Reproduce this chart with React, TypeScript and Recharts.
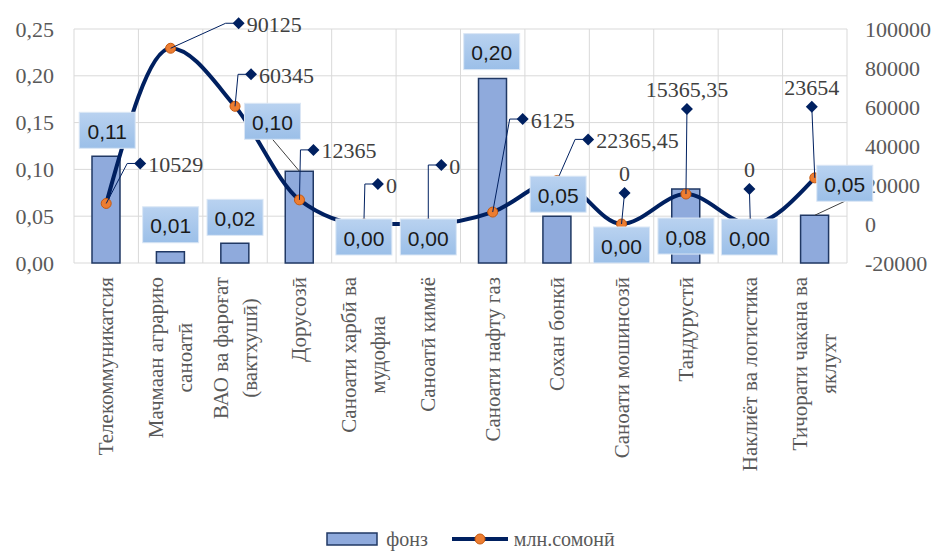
import { ComposedChart, Bar, Line, XAxis, YAxis, CartesianGrid, Legend, LabelList } from "recharts";

// categories (multi-line labels split by \n)
const categories = [
  "Телекоммуникатсия",
  "Мачмаан аграрию\nсаноатӣ",
  "ВАО ва фароғат\n(вактхушӣ)",
  "Дорусозӣ",
  "Саноати харбӣ ва\nмудофиа",
  "Саноатӣ кимиё",
  "Саноати нафту газ",
  "Сохан бонкӣ",
  "Саноати мошинсозӣ",
  "Тандурустӣ",
  "Наклиёт ва логистика",
  "Тичорати чакана ва\nяклухт",
];
const shares = [0.114, 0.012, 0.021, 0.098, 0, 0, 0.197, 0.05, 0, 0.079, 0, 0.051];
const amounts = [10529, 90125, 60345, 12365, 0, 0, 6125, 22365.45, 0, 15365.35, 0, 23654];
const leftTicks = [0, 0.05, 0.1, 0.15, 0.2, 0.25];
const rightTicks = [-20000, 0, 20000, 40000, 60000, 80000, 100000];

// label placement tweaks (box centre relative to bar top, diamond relative to point)
const barLabelShift = [[1, -26], [0, -27], [0, -26], [-27, -50], [0, -26], [0, -26], [-1, -27], [1, -22], [0, -18], [0, 47], [-1, -26], [30, -32]];
const lineLabelShift: [number, number, "r" | "t"][] = [
  [34, -40, "r"], [68, -25, "r"], [16, -32, "r"], [14, -50, "r"], [14, -40, "r"], [13, -59, "r"],
  [30, -93, "r"], [31, -41, "r"], [3, -31, "t"], [1, -85, "t"], [-1, -35, "t"], [-3, -71, "t"],
];

const rows = categories.map((name, i) => ({ name, share: shares[i], amount: amounts[i] }));

const SERIF = "'Liberation Serif', 'DejaVu Serif', serif";
const SANS = "'Liberation Sans', Arial, sans-serif";
const NAVY = "#002060";
const GREY = "#595959";

let ctx: CanvasRenderingContext2D | null = null;
function measure(s: string, font: string) {
  if (!ctx) ctx = document.createElement("canvas").getContext("2d");
  if (!ctx) return s.length * 10;
  ctx.font = font;
  return ctx.measureText(s).width;
}

const CatTick = (props: any) => {
  const { x, y, payload } = props;
  const lines = String(payload.value).split("\n");
  const lh = 29;
  const w = Math.max(...lines.map((l) => measure(l, `21px ${SERIF}`)));
  return (
    <g>
      {lines.map((l, j) => {
        const lx = x + (j - (lines.length - 1) / 2) * lh;
        return (
          <text key={j} transform={`translate(${lx},${y + w / 2}) rotate(-90)`} textAnchor="middle"
            dominantBaseline="central" style={{ fontFamily: SERIF, fontSize: 21 }} fill={GREY}>
            {l}
          </text>
        );
      })}
    </g>
  );
};

const YTick = (props: any) => {
  const { x, y, payload, textAnchor, fmt } = props;
  return (
    <text x={x} y={y} textAnchor={textAnchor} dominantBaseline="central" style={{ fontFamily: SERIF, fontSize: 22 }} fill={GREY}>
      {fmt ? fmt(payload.value) : payload.value}
    </text>
  );
};

// bar labels are hung on an invisible line so zero values still get a box
const BarLabel = (props: any) => {
  const { x, y, index, value } = props;
  const [ox, oy] = barLabelShift[index];
  const bx = x + ox;
  const by = y + oy;
  const bw = 56, bh = 36;
  return (
    <g>
      {Math.abs(ox) > 10 && <line x1={x} y1={y} x2={bx} y2={by + bh / 2} stroke="#404040" strokeWidth={1} />}
      <rect x={bx - bw / 2} y={by - bh / 2} width={bw} height={bh} fill="url(#lblGrad)" stroke="#dbe7f5" strokeWidth={1} />
      <text x={bx} y={by + 1} textAnchor="middle" dominantBaseline="central" style={{ fontFamily: SANS, fontSize: 21 }} fill="#1a1a1a">
        {Number(value).toFixed(2).replace(".", ",")}
      </text>
    </g>
  );
};

const LineLabel = (props: any) => {
  const { x, y, index, value } = props;
  const [dx, dy, kind] = lineLabelShift[index];
  const px = x + dx, py = y + dy;
  const txt = String(value).replace(".", ",");
  const d = 6;
  const diamond = `${px - d},${py} ${px},${py - d} ${px + d},${py} ${px},${py + d}`;
  return (
    <g>
      {kind === "r" ? (
        <polyline points={`${x},${y} ${px - 13},${py} ${px},${py}`} fill="none" stroke={NAVY} strokeWidth={1} />
      ) : (
        <line x1={x} y1={y} x2={px} y2={py} stroke={NAVY} strokeWidth={1} />
      )}
      <polygon points={diamond} fill={NAVY} />
      {kind === "r" ? (
        <text x={px + 8} y={py + 1} dominantBaseline="central" style={{ fontFamily: SERIF, fontSize: 22 }} fill="#404040">{txt}</text>
      ) : (
        <text x={px} y={py - 12} textAnchor="middle" style={{ fontFamily: SERIF, fontSize: 22 }} fill="#404040">{txt}</text>
      )}
    </g>
  );
};

const LegendBox = () => (
  <div style={{ height: 34, paddingTop: 10, boxSizing: "border-box", display: "flex", justifyContent: "center", alignItems: "center", gap: 24, fontFamily: SERIF, fontSize: 20, color: GREY }}>
    <span style={{ display: "flex", alignItems: "center", gap: 8 }}>
      <svg width={52} height={16}><rect x={1} y={2} width={50} height={12} fill="#8FAADC" stroke="#203864" strokeWidth={1.5} /></svg>
      фонз
    </span>
    <span style={{ display: "flex", alignItems: "center", gap: 6 }}>
      <svg width={56} height={16}>
        <line x1={0} y1={8} x2={56} y2={8} stroke={NAVY} strokeWidth={4} />
        <circle cx={28} cy={8} r={5} fill="#ED7D31" stroke="#C55A11" strokeWidth={1} />
      </svg>
      млн.сомонӣ
    </span>
  </div>
);

export default function App() {
  return (
    <div style={{ position: "absolute", left: 0, top: 0, width: 941, height: 551, background: "#fff" }}>
      <ComposedChart width={941} height={551} data={rows} margin={{ top: 29, right: 8, bottom: 0, left: 8 }}>
        <defs>
          <linearGradient id="lblGrad" x1="0" y1="0" x2="0" y2="1">
            <stop offset="0%" stopColor="#B9D2F0" />
            <stop offset="100%" stopColor="#9BBFE8" />
          </linearGradient>
        </defs>
        <CartesianGrid yAxisId="left" stroke="#d9d9d9"
          verticalCoordinatesGenerator={({ offset }: any) =>
            Array.from({ length: categories.length + 1 }, (_, i) => offset.left + (i * offset.width) / categories.length)
          } />
        <XAxis dataKey="name" interval={0} tick={<CatTick />} tickLine={false} axisLine={false}
          tickSize={0} tickMargin={14} height={254} />
        <YAxis yAxisId="left" domain={[0, 0.25]} ticks={leftTicks} width={66} axisLine={false} tickLine={false}
          tickSize={0} tickMargin={20} tick={<YTick fmt={(v: number) => v.toFixed(2).replace(".", ",")} />} />
        <YAxis yAxisId="right" orientation="right" domain={[-20000, 100000]} ticks={rightTicks} width={86}
          axisLine={false} tickLine={false} tickSize={0} tickMargin={18} tick={<YTick />} />
        <Bar yAxisId="left" dataKey="share" name="фонз" barSize={28} fill="#8FAADC" stroke="#203864"
          strokeWidth={1.5} isAnimationActive={false} />
        <Line yAxisId="right" dataKey="amount" name="млн.сомонӣ" type="monotone" stroke={NAVY} strokeWidth={4}
          dot={{ r: 5, fill: "#ED7D31", stroke: "#C55A11", strokeWidth: 1 }} isAnimationActive={false}>
          <LabelList dataKey="amount" content={LineLabel} />
        </Line>
        <Line yAxisId="left" dataKey="share" stroke="none" dot={false} activeDot={false} legendType="none" isAnimationActive={false}>
          <LabelList dataKey="share" content={BarLabel} />
        </Line>
        <Legend verticalAlign="bottom" content={<LegendBox />} />
      </ComposedChart>
    </div>
  );
}
